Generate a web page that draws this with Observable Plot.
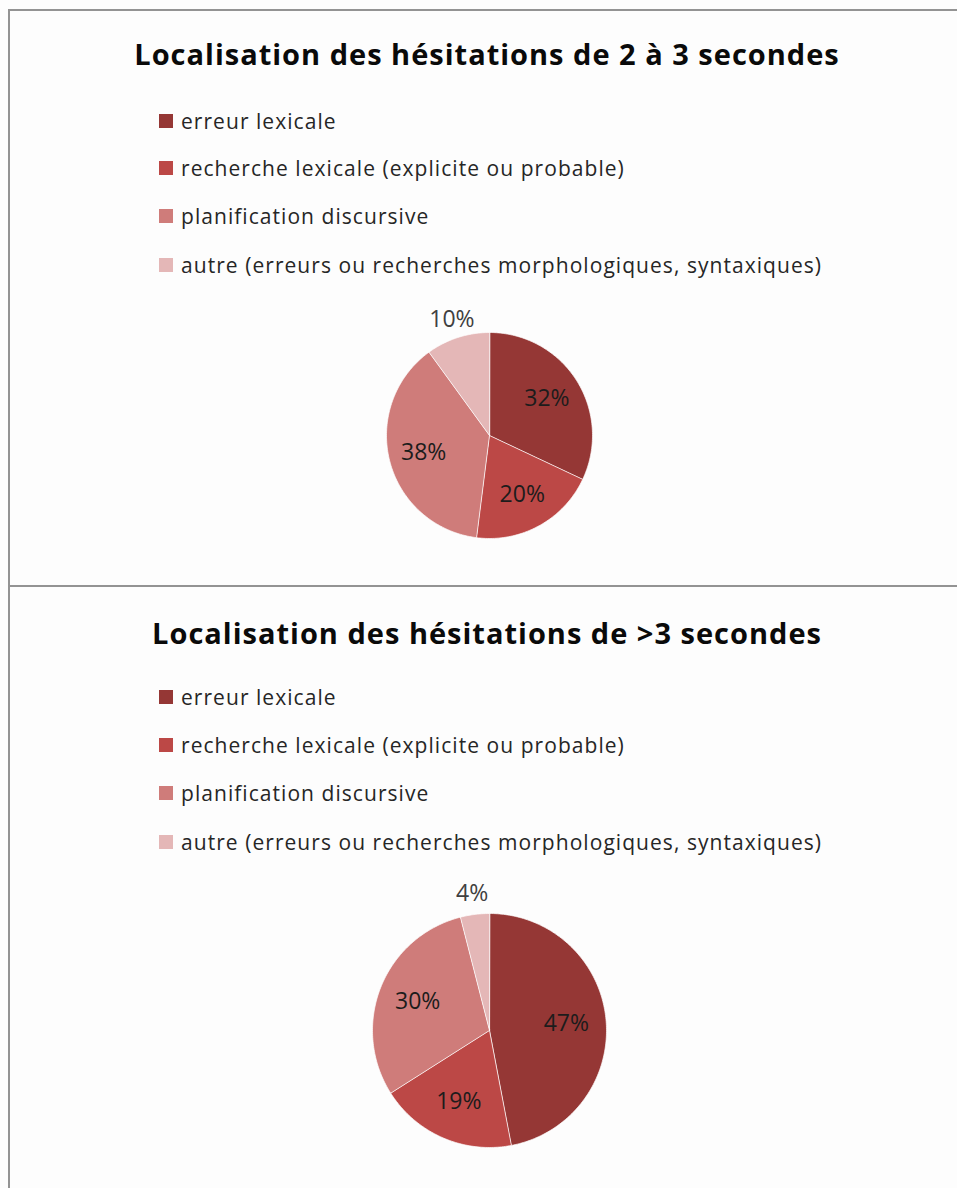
<!DOCTYPE html>
<html><head><meta charset="utf-8">
<script src="https://cdn.jsdelivr.net/npm/d3@7"></script>
<script src="https://cdn.jsdelivr.net/npm/@observablehq/plot@0.6"></script>
<style>
html,body{margin:0;padding:0;background:#fdfdfd;}
body{width:957px;height:1188px;position:relative;overflow:hidden;font-family:"Open Sans",sans-serif;color:#111;}
.abs{position:absolute;}
.title{left:10px;width:954px;text-align:center;font-weight:700;font-size:29px;letter-spacing:1px;line-height:32px;color:#0a0a0a;white-space:nowrap;}
.legrow{left:159px;height:26px;display:flex;align-items:center;font-size:21px;letter-spacing:1.05px;color:#262626;white-space:nowrap;}
.sw{width:14px;height:14px;margin-right:8px;flex:none;}
</style>
</head><body>
<div class="abs" style="left:8px;top:9px;width:960px;height:1200px;border-left:2px solid #939393;border-top:2px solid #939393;box-sizing:border-box"></div>
<div class="abs" style="left:9px;top:585px;width:960px;height:0;border-top:2px solid #939393"></div>
<div id="root"></div>
<script>
const categories = [
  "erreur lexicale",
  "recherche lexicale (explicite ou probable)",
  "planification discursive",
  "autre (erreurs ou recherches morphologiques, syntaxiques)"
];
const colors = ["#953735", "#bc4846", "#cf7c7a", "#e4b7b7"];
const titles = [
  "Localisation des hésitations de 2 à 3 secondes",
  "Localisation des hésitations de >3 secondes"
];
const values2to3 = [32, 20, 38, 10];
const valuesOver3 = [47, 19, 30, 4];

const root = document.getElementById("root");

function el(tag, cls, style, text) {
  const e = document.createElement(tag);
  if (cls) e.className = cls;
  if (style) e.setAttribute("style", style);
  if (text != null) e.textContent = text;
  return e;
}

function pieChart(values, R) {
  const total = d3.sum(values);
  const pts = [], labels = [];
  let acc = 0;
  values.forEach((v, i) => {
    const a0 = acc / total * 2 * Math.PI, a1 = (acc + v) / total * 2 * Math.PI;
    acc += v;
    const cat = categories[i];
    pts.push({cat, x: 0, y: 0});
    const n = Math.max(2, Math.ceil((a1 - a0) / (Math.PI / 180)));
    for (let k = 0; k <= n; k++) {
      const a = a0 + (a1 - a0) * k / n;
      pts.push({cat, x: Math.sin(a), y: Math.cos(a)});
    }
    const mid = (a0 + a1) / 2;
    const outside = v / total < 0.15;
    const r = outside ? 1.18 : 0.66;
    labels.push({x: r * Math.sin(mid), y: r * Math.cos(mid), text: v + "%", outside});
  });
  const size = 2 * R + 90;
  const s = size / 2 / R;
  return Plot.plot({
    width: size, height: size, margin: 0,
    style: {fontFamily: "Open Sans", background: "transparent", overflow: "visible"},
    x: {domain: [-s, s], axis: null},
    y: {domain: [-s, s], axis: null},
    color: {domain: categories, range: colors},
    marks: [
      Plot.line(pts, {x: "x", y: "y", z: "cat", fill: "cat", stroke: "#ffffff", strokeWidth: 1, strokeOpacity: 0.7, curve: "linear-closed"}),
      Plot.text(labels, {x: "x", y: "y", text: "text", fontSize: 23, fill: d => d.outside ? "#404040" : "#1c1c1c"})
    ]
  });
}

function panel(title, values, layout) {
  root.appendChild(el("div", "abs title", `top:${layout.titleY - 16}px`, title));
  categories.forEach((c, i) => {
    const row = el("div", "abs legrow", `top:${layout.legY[i] - 13}px`);
    row.appendChild(el("span", "sw", `background:${colors[i]}`));
    row.appendChild(el("span", null, null, c));
    root.appendChild(row);
  });
  const chart = pieChart(values, layout.R);
  const size = 2 * layout.R + 90;
  const wrap = el("div", "abs", `left:${layout.cx - size / 2}px;top:${layout.cy - size / 2}px;width:${size}px;height:${size}px`);
  wrap.appendChild(chart);
  root.appendChild(wrap);
}

panel(titles[0], values2to3, {titleY: 54, legY: [121, 168, 216, 265], R: 103, cx: 489, cy: 435});
panel(titles[1], valuesOver3, {titleY: 633, legY: [697, 745, 793, 842], R: 117, cx: 489, cy: 1030});
</script>
</body></html>
